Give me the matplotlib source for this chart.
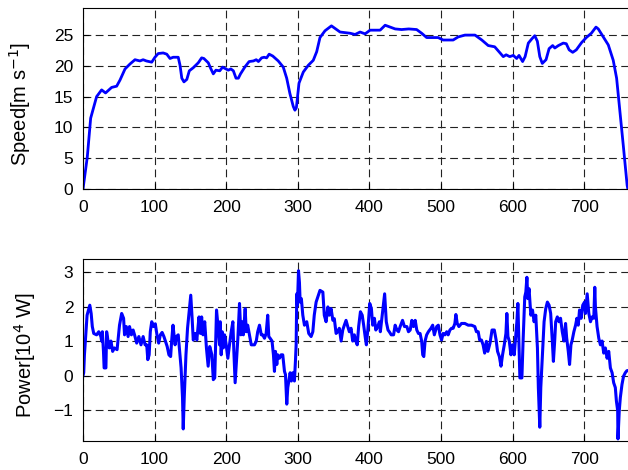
import matplotlib
matplotlib.use("Agg")
import matplotlib.pyplot as plt

plt.rcParams["font.family"] = ["Liberation Sans", "DejaVu Sans"]

# speed [m/s] vs time [s]
speed_t = [0, 6, 10.7, 19, 26, 31.5, 40, 47, 51.7, 58.7,
           65.6, 72.6, 79.5, 84, 88.5, 96, 100.5, 105, 112, 117,
           121.5, 126, 133, 135.5, 138, 141, 145, 148.5, 154, 161,
           165.7, 168.8, 175, 178.3, 182, 185.6, 191, 195, 198, 203,
           206.5, 210, 213.7, 217, 220, 226, 232, 238, 242, 245,
           249.5, 253, 256.5, 260, 265, 272.7, 279.7, 284.5, 289, 293.7,
           296, 298, 301.7, 307.7, 314.7, 321.6, 326.4, 331, 338, 347,
           359, 373, 380, 387, 394, 401, 415, 422, 429, 436,
           445, 455, 466, 473, 480, 496, 503, 517, 524, 533.5,
           547.5, 557, 566, 575, 581, 587, 591, 596, 601, 605.7,
           609, 614, 617.5, 622, 627, 631, 634.6, 638, 641.5, 646.7,
           651, 656, 659, 664, 670.8, 675, 679, 684, 689, 696.5,
           703, 710, 716.5, 719.7, 726.7, 733.7, 740.6, 745.3, 750, 754.6,
           760, 761]
speed_v = [0, 5.2, 11.5, 15.0, 16.1, 15.6, 16.5, 16.7, 17.7, 19.5,
           20.3, 21.0, 20.8, 21.0, 20.8, 20.6, 21.4, 22.0, 22.1, 21.9,
           21.2, 21.4, 21.4, 20.1, 18.0, 17.4, 17.8, 19.2, 19.7, 20.5,
           21.3, 21.2, 20.5, 19.6, 18.7, 19.3, 19.2, 19.8, 19.6, 19.3,
           19.5, 19.2, 18.0, 18.0, 18.7, 19.8, 20.7, 20.8, 21.0, 20.7,
           21.3, 21.4, 21.3, 21.9, 21.6, 20.8, 19.8, 18.0, 15.5, 13.4,
           12.8, 13.2, 17.2, 19.0, 20.1, 20.9, 22.3, 24.6, 25.7, 26.5,
           25.5, 25.3, 25.1, 25.5, 25.2, 25.8, 25.8, 26.6, 26.3, 26.0,
           25.9, 26.0, 25.9, 25.3, 24.6, 24.6, 24.2, 24.2, 24.7, 25.0,
           25.0, 24.2, 23.3, 23.1, 22.3, 21.5, 21.8, 21.5, 21.7, 21.2,
           21.7, 20.7, 21.5, 23.7, 24.4, 24.9, 24.0, 21.5, 20.4, 21.0,
           22.8, 23.3, 22.9, 23.3, 23.7, 23.6, 22.6, 22.2, 22.6, 23.8,
           24.6, 25.3, 26.3, 26.0, 24.7, 23.4, 20.9, 18.0, 12.5, 7.1,
           0.6, 0]

# power [10^4 W] vs time [s]
power_t = [0, 1, 2, 3.3, 5.7, 9.5, 11.4, 13, 15, 19,
           22, 25, 26, 27, 28.6, 29.5, 32, 33, 35, 36.7,
           39, 41.4, 43.8, 47.6, 51, 54, 56.7, 58, 60.5, 63,
           65, 67.6, 70, 72, 75, 78, 81, 84, 86.7, 89,
           90.5, 92.4, 94, 96, 98.6, 101, 103.3, 105.7, 108, 110.5,
           113, 115, 117.6, 120, 122.4, 123.8, 125.7, 128.6, 130.5, 133,
           135, 137, 139, 140, 141.4, 143.8, 146, 148.6, 150.5, 152.4,
           154, 157, 159, 162, 164, 165.7, 167.6, 170, 172.4, 174.8,
           177, 180, 182, 184, 186.5, 188, 190.7, 191.6, 193, 194.4,
           196, 197.7, 200, 202.3, 204.6, 207, 209.3, 210.7, 212.5, 214,
           216.3, 218.6, 220.5, 222.3, 224, 226.5, 228, 230, 232.5, 235,
           239.5, 242, 244, 246.5, 249, 251, 253.5, 255.8, 258, 259.5,
           261.4, 264, 266, 267.4, 268.8, 270.7, 272, 274.4, 276.7, 279,
           281.4, 282.8, 284.6, 286, 287.4, 289.3, 291, 293, 295.3, 296.7,
           297.7, 298.6, 299.5, 301, 302.3, 303.3, 305, 307, 309.3, 312.5,
           315.3, 318.6, 321, 323, 325.6, 328, 331, 335, 337, 339.5,
           342, 344, 346.5, 349, 351, 353.5, 355.8, 358, 360.5, 362.8,
           365, 367.4, 369.8, 372, 374.4, 376.7, 379, 380.5, 383, 385,
           387.5, 390, 392, 394.4, 395.8, 398, 400.5, 402.8, 404.6, 407,
           409, 411.6, 414, 415.3, 417.6, 420, 421.3, 422.2, 423.6, 426,
           427.8, 430.5, 433.8, 436, 438.4, 440.7, 443, 446.3, 449, 452.3,
           454.6, 457, 459.3, 461.6, 464, 466.2, 468.5, 470.8, 473, 474.5,
           476, 477.8, 480, 482.4, 486, 488.4, 490.7, 494, 496.3, 498.6,
           500.8, 503, 505.5, 508, 510, 512.5, 514.8, 517, 519.4, 520.8,
           522.7, 525, 528.7, 533.3, 538, 542.6, 547.2, 549.5, 552, 554,
           556.5, 558.8, 561, 563.4, 565.5, 568.5, 571.3, 574.5, 577, 579,
           581.5, 583.8, 586, 588.4, 590.7, 592, 593.5, 595.4, 597.7, 600,
           602.3, 604.6, 606, 607.4, 608.8, 610.2, 613, 614.8, 617, 618.5,
           620, 621.3, 623, 625.5, 627.8, 630, 632.4, 634.7, 636, 638,
           639.4, 641.7, 644, 646.3, 648.6, 651, 653.2, 655.5, 657, 658.8,
           660.2, 662.5, 664.8, 667, 669.4, 671.8, 674, 675.5, 677.8, 679.6,
           681.5, 683.3, 685.6, 688, 689.8, 691.7, 693.5, 695.8, 698, 700.5,
           701.8, 704.2, 706.5, 708.8, 711, 713.4, 714.8, 715.7, 718, 720.4,
           722.7, 725, 727.3, 729.6, 732, 734.3, 736.6, 739, 741.2, 743.5,
           745, 746.8, 747.2, 749, 750.5, 752.8, 755, 757.4, 759.7, 763]
power_p = [0.0, 0.08, 0.6, 1.0, 1.75, 2.04, 1.8, 1.42, 1.22, 1.18,
           1.27, 1.13, 1.0, 1.27, 0.7, 0.22, 0.22, 1.27, 1.0, 0.8,
           1.0, 0.7, 0.8, 0.75, 1.46, 1.8, 1.66, 1.18, 1.42, 1.13,
           1.42, 1.18, 1.32, 1.18, 0.94, 1.13, 0.89, 1.13, 0.89, 0.89,
           0.46, 0.6, 1.27, 1.56, 1.42, 1.5, 1.18, 0.94, 1.18, 1.25,
           1.13, 1.0, 0.84, 0.6, 0.55, 1.0, 1.46, 0.89, 1.13, 1.18,
           0.7, 0.22, -0.64, -1.55, -0.64, 0.6, 1.37, 1.94, 2.33, 1.66,
           1.03, 1.22, 1.03, 1.7, 1.22, 1.7, 1.18, 1.56, 0.8, 0.27,
           0.84, 0.6, -0.12, -0.07, 1.9, 1.56, 0.89, 1.56, 0.6, 1.27,
           0.8, 1.18, 0.89, 0.5, 0.89, 1.27, 1.56, 0.7, -0.21, 0.32,
           1.08, 2.09, 1.18, 1.56, 1.18, 1.94, 1.27, 1.46, 1.18, 0.89,
           0.89, 1.0, 1.27, 1.46, 1.18, 1.18, 1.08, 1.22, 1.75, 1.13,
           1.08, 1.0, 0.6, 0.12, 0.7, 0.32, 0.6, 0.5, 0.6, 0.6,
           0.12, 0.03, -0.83, -0.35, -0.16, 0.08, -0.16, 0.08, -0.16, 0.41,
           0.89, 2.37, 2.04, 3.04, 2.7, 2.13, 2.23, 1.75, 1.46, 1.56,
           1.22, 1.13, 1.27, 1.75, 2.13, 2.28, 2.47, 2.42, 1.75, 1.56,
           1.99, 1.75, 1.94, 1.6, 1.65, 1.22, 1.27, 1.37, 1.0, 1.32,
           1.46, 1.6, 1.42, 1.27, 1.37, 1.0, 1.18, 1.03, 0.89, 1.42,
           1.85, 1.75, 1.46, 1.08, 0.89, 1.37, 2.09, 1.94, 1.46, 1.66,
           1.32, 1.42, 1.56, 1.27, 1.7, 2.13, 2.37, 2.04, 1.56, 1.32,
           1.27, 1.18, 1.18, 1.46, 1.32, 1.27, 1.42, 1.6, 1.42, 1.42,
           1.27, 1.32, 1.6, 1.42, 1.6, 1.32, 1.22, 1.22, 1.0, 0.6,
           0.55, 1.0, 1.18, 1.27, 1.37, 1.46, 1.18, 1.42, 1.46, 1.18,
           1.03, 1.22, 1.18, 1.27, 1.18, 1.32, 1.37, 1.37, 1.51, 1.77,
           1.51, 1.42, 1.51, 1.51, 1.46, 1.46, 1.42, 1.27, 1.27, 1.03,
           1.03, 0.89, 0.65, 0.99, 0.7, 0.94, 1.32, 1.32, 1.03, 0.7,
           0.55, 0.27, 0.6, 0.89, 1.22, 1.8, 1.13, 1.0, 0.6, 0.89,
           0.6, 1.18, 1.56, 2.09, 1.0, -0.07, -0.07, 1.08, 2.28, 2.42,
           2.85, 2.23, 2.52, 1.75, 1.9, 1.56, 1.75, 0.8, -0.35, -1.5,
           -0.35, 0.6, 1.56, 1.94, 2.13, 2.04, 1.8, 1.0, 0.41, 1.0,
           1.56, 1.7, 1.56, 1.66, 1.27, 1.0, 1.51, 1.1, 0.7, 0.32,
           0.89, 1.03, 1.27, 1.46, 1.66, 1.46, 1.9, 1.66, 2.04, 2.13,
           1.8, 2.37, 1.8, 1.56, 1.7, 1.66, 2.56, 1.99, 1.42, 1.08,
           0.89, 1.0, 0.65, 0.8, 0.5, 0.7, 0.22, 0.08, -0.21, -0.35,
           -0.74, -1.02, -1.84, -1.02, -0.64, -0.26, -0.02, 0.08, 0.14, 0.15]

x_ticks = [0, 100, 200, 300, 400, 500, 600, 700]
speed_ticks = [0, 5, 10, 15, 20, 25]
power_ticks = [-1, 0, 1, 2, 3]

W, H = 628, 470
fig = plt.figure(figsize=(W / 100, H / 100), dpi=100)
ax1 = fig.add_axes([83 / W, 1 - 189 / H, 547 / W, 181 / H])
ax2 = fig.add_axes([83 / W, 1 - 441 / H, 547 / W, 182 / H])

ax1.plot(speed_t, speed_v, color="#0000ff", linewidth=2)
ax1.set_ylim(0, 29.4)
ax1.set_yticks(speed_ticks)
ax1.set_ylabel("Speed[m s$^{-1}$]", fontsize=14.5)
ax1.yaxis.set_label_coords(-0.092, 0.47)

ax2.plot(power_t, power_p, color="#0000ff", linewidth=2.2)
ax2.set_ylim(-1.9, 3.38)
ax2.set_yticks(power_ticks)
ax2.set_ylabel("Power[10$^4$ W]", fontsize=14.5)
ax2.yaxis.set_label_coords(-0.083, 0.47)

for ax in (ax1, ax2):
    ax.set_xlim(0, 764)
    ax.set_xticks(x_ticks)
    ax.grid(True, color="#222222", linestyle=(0, (7, 4)), linewidth=0.8)
    ax.tick_params(direction="in", length=4, labelsize=12.5)
    ax.tick_params(axis="x", pad=8)
    ax.tick_params(axis="y", pad=7)
    for s in ax.spines.values():
        s.set_linewidth(0.8)

fig.savefig("out.png", dpi=100)
